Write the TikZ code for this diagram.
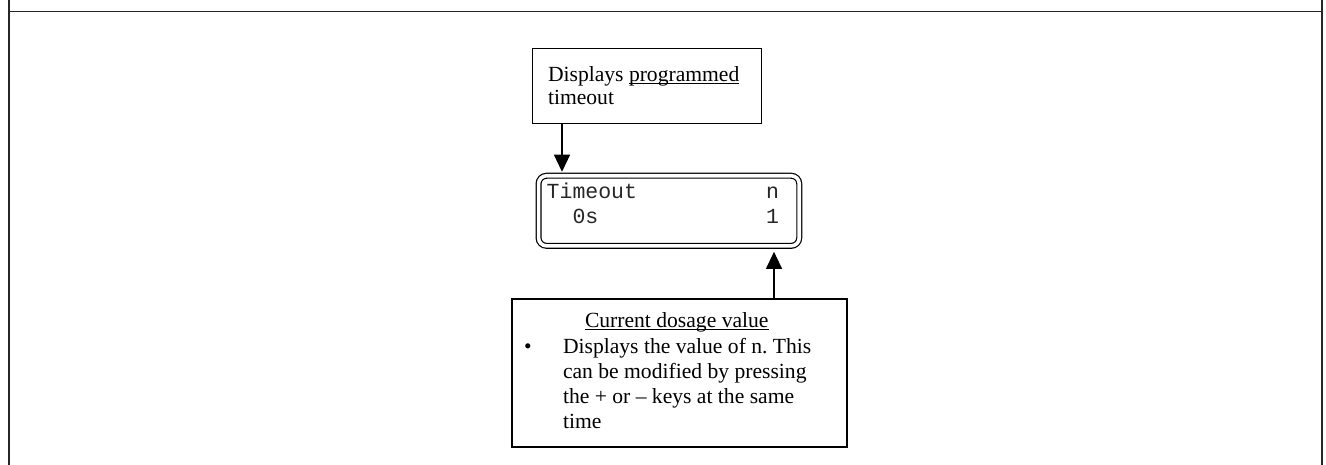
\documentclass[tikz,border=0pt]{standalone}
\usepackage{fontspec}
\setmainfont{Liberation Serif}
\newfontfamily\lcdfont{Liberation Mono}
\usetikzlibrary{arrows.meta}
\frenchspacing

% underline drawn at a fixed depth, through descenders
\newcommand{\ulin}[1]{\setbox0\hbox{#1}\rlap{\rule[-2.6pt]{\wd0}{1pt}}\box0}

\tikzset{
  frameline/.style={line width=1.4pt, draw=black!85},
  boxshape/.style={draw, rectangle, line width=1.2pt, inner sep=0pt, outer sep=0pt},
  lcdshape/.style={draw, rectangle, line width=1.2pt, double, double distance=3.6pt,
                   rounded corners=8pt, inner sep=0pt, outer sep=0pt},
  txt/.style={anchor=base west, inner sep=0pt, outer sep=0pt,
              font=\fontsize{21.6}{25}\selectfont},
  lcdtxt/.style={anchor=base west, inner sep=0pt, outer sep=0pt,
              font=\lcdfont\fontsize{21.5}{25}\selectfont, text=black!85},
  conn/.style={line width=1.2pt, -{Triangle[width=16pt,length=17pt]}}
}

\begin{document}
\begin{tikzpicture}[x=1pt,y=-1pt]
\useasboundingbox (0,0) rectangle (1326,465);

% outer table frame
\draw[frameline] (9,0) -- (9,465);
\draw[frameline] (1322,0) -- (1322,465);
\draw[frameline] (9,11.5) -- (1322,11.5);

% boxes
\node[boxshape, minimum width=229.4pt, minimum height=75pt] (topbox) at (647,85.8) {};
\node[lcdshape, minimum width=260.7pt, minimum height=70.1pt] (lcd) at (668.9,210.8) {};
\node[boxshape, minimum width=335pt, minimum height=148pt] (notebox) at (679.5,373) {};

% top note text
\node[txt] (t1) at (548,81.7) {Displays \ulin{programmed}};
\node[txt] (t2) at (548,105) {timeout};

% display contents
\node[lcdtxt] (d1) at (546.7,198.3) {Timeout~~~~~~~~~~n};
\node[lcdtxt] (d2) at (546.7,223.3) {~~0s~~~~~~~~~~~~~1};

% bottom note text
\node[txt] (b0) at (585,327) {\ulin{Current dosage value}};
\node[txt] (bb) at (524,353) {•};
\node[txt] (b1) at (563,353) {Displays the value of n. This};
\node[txt] (b2) at (563,378.2) {can be modified by pressing};
\node[txt] (b3) at (563,403.4) {the + or – keys at the same};
\node[txt] (b4) at (563,428.6) {time};

% connectors
\coordinate (dx) at (562,0);
\coordinate (ux) at (774,0);
\draw[conn, shorten >=4pt] (topbox.south -| dx) -- (lcd.north -| dx);
\draw[conn, shorten >=6pt] (notebox.north -| ux) -- (lcd.south -| ux);
\end{tikzpicture}
\end{document}
